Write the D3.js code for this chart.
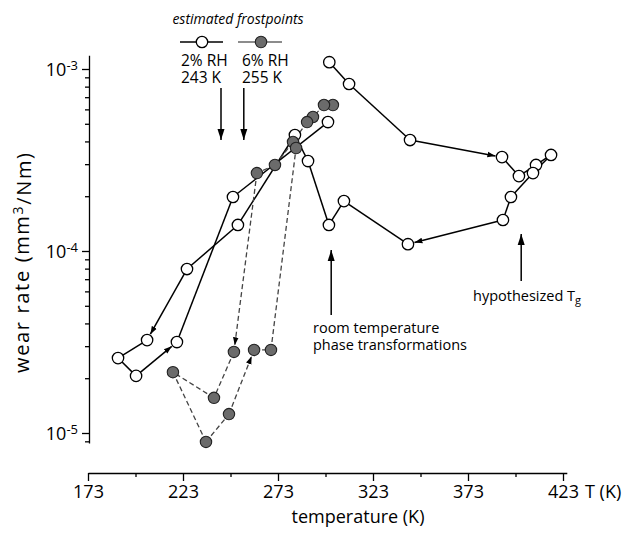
<!DOCTYPE html>
<html>
<head>
<meta charset="utf-8">
<script src="https://cdn.jsdelivr.net/npm/d3@7"></script>
<style>
  body { margin: 0; background: #fff; }
  text { font-family: "Open Sans", "Noto Sans", sans-serif; fill: #000; }
</style>
</head>
<body>
<svg id="chart" width="635" height="533"></svg>
<script>
// 2% RH series (open circles, solid line), in measurement order
const dryTemp = [300, 310.4, 342.5, 390.9, 399.8, 408.8, 416.7, 407.2, 395.6, 391.4, 341.4, 307.7, 299.8,
                 288.8, 281.9, 251.9, 225.1, 204.1, 188.8, 198.3, 219.8, 249.3, 299.3];
const dryWear = [1.09e-3, 8.27e-4, 4.07e-4, 3.28e-4, 2.58e-4, 2.97e-4, 3.37e-4, 2.68e-4, 1.98e-4, 1.48e-4, 1.09e-4, 1.88e-4, 1.39e-4,
                 3.12e-4, 4.34e-4, 1.39e-4, 7.96e-5, 3.24e-5, 2.58e-5, 2.06e-5, 3.16e-5, 1.98e-4, 5.11e-4];
const dryArrows = [3, 10, 17, 20]; // index of point an arrow points into

// 6% RH series (grey circles, dashed line)
const humidTemp = [301.9, 297.2, 291.4, 288.3, 280.9, 271.4, 261.9, 249.8, 239.3, 217.7, 235.1, 247.2, 260.4, 269.3, 282.5];
const humidWear = [6.34e-4, 6.34e-4, 5.45e-4, 5.11e-4, 3.97e-4, 2.97e-4, 2.68e-4, 2.79e-5, 1.56e-5, 2.16e-5, 8.93e-6, 1.27e-5, 2.86e-5, 2.86e-5, 3.68e-4];
const humidArrows = [7, 12];

const xTicks = [173, 223, 273, 323, 373, 423];
const xMinor = [198, 248, 298, 348, 398];
const yTicks = [1e-5, 1e-4, 1e-3];
const yMinor = [9e-6, 2e-5, 3e-5, 4e-5, 5e-5, 6e-5, 7e-5, 8e-5, 9e-5, 2e-4, 3e-4, 4e-4, 5e-4, 6e-4, 7e-4, 8e-4, 9e-4];

// annotation arrows: frostpoints, room temperature, Tg
const frostTemps = [243, 255];
const roomTemp = 301;
const tgTemp = 401;

const svg = d3.select("#chart");

var x = d3.scaleLinear().domain([173, 425]).range([88, 566.8]);
var y = d3.scaleLog().domain([1e-5, 1e-3]).range([433, 69]);
var yAx = y.copy().domain([8.8e-6, 1.19e-3]).range([y(8.8e-6), y(1.19e-3)]);

svg.append("defs").append("marker")
  .attr("id", "head")
  .attr("viewBox", "0 0 10 10")
  .attr("refX", 10).attr("refY", 5)
  .attr("markerWidth", 8).attr("markerHeight", 8)
  .attr("markerUnits", "userSpaceOnUse")
  .attr("orient", "auto")
  .append("path").attr("d", "M0,1.5L10,5L0,8.5Z").attr("fill", "#000");

// axes
const xg = svg.append("g").attr("transform", "translate(0,473)");
xg.call(d3.axisBottom(x).tickValues(xTicks).tickSize(8).tickSizeOuter(0).tickFormat(d3.format("d")));
xg.append("g").call(d3.axisBottom(x).tickValues(xMinor).tickSize(4).tickFormat(""))
  .select(".domain").remove();
xg.selectAll("text").attr("font-size", 18).attr("y", 25).attr("dy", 0).style("font-family", "Open Sans");
xg.selectAll("path, line").attr("stroke", "#000").attr("stroke-width", 1.3);

const yg = svg.append("g").attr("transform", "translate(89,0)");
yg.call(d3.axisLeft(yAx).tickValues(yTicks).tickSize(7).tickSizeOuter(0).tickFormat(""));
yg.append("g").call(d3.axisLeft(yAx).tickValues(yMinor).tickSize(4).tickFormat(""))
  .select(".domain").remove();
yg.selectAll("path, line").attr("stroke", "#000").attr("stroke-width", 1.3);
yg.selectAll(".tick").filter(d => yTicks.includes(d)).each(function (d) {
  const t = d3.select(this).append("text")
    .attr("x", -11).attr("dy", "0.35em")
    .attr("text-anchor", "end").attr("font-size", 18);
  t.append("tspan").text("10");
  t.append("tspan").attr("dy", "-0.45em").attr("font-size", 13).text(Math.round(Math.log10(d)));
});

svg.append("text").attr("x", 585).attr("y", 498).attr("font-size", 18).text("T (K)");
svg.append("text").attr("x", 358).attr("y", 523).attr("text-anchor", "middle").attr("font-size", 18).text("temperature (K)");
const yl = svg.append("text").attr("transform", "translate(29,263) rotate(-90)")
  .attr("text-anchor", "middle").attr("font-size", 20)
  .attr("textLength", 220).attr("lengthAdjust", "spacing");
yl.append("tspan").text("wear rate (mm");
yl.append("tspan").attr("dy", "-0.4em").attr("font-size", 14).text("3");
yl.append("tspan").attr("dy", "0.4em").text("/Nm)");

// series
const r = 5.7;
function drawSeries(temps, wears, arrows, dashed) {
  const pts = temps.map((t, i) => ({ t: t, w: wears[i] }));
  const segs = d3.pairs(pts).map((p, i) => ({ a: p[0], b: p[1], arrow: arrows.includes(i + 1) }));
  svg.append("g").selectAll("line").data(segs).enter().append("line")
    .attr("x1", d => x(d.a.t)).attr("y1", d => y(d.a.w))
    .attr("x2", d => {
      if (!d.arrow) return x(d.b.t);
      const dx = x(d.b.t) - x(d.a.t), dy = y(d.b.w) - y(d.a.w), L = Math.hypot(dx, dy);
      return x(d.b.t) - dx / L * (r + 1);
    })
    .attr("y2", d => {
      if (!d.arrow) return y(d.b.w);
      const dx = x(d.b.t) - x(d.a.t), dy = y(d.b.w) - y(d.a.w), L = Math.hypot(dx, dy);
      return y(d.b.w) - dy / L * (r + 1);
    })
    .attr("stroke", dashed ? "#444" : "#000")
    .attr("stroke-width", dashed ? 1.3 : 1.5)
    .attr("stroke-dasharray", dashed ? "5,3" : null)
    .attr("marker-end", d => d.arrow ? "url(#head)" : null);
  return pts;
}
const dryPts = drawSeries(dryTemp, dryWear, dryArrows, false);
const humidPts = drawSeries(humidTemp, humidWear, humidArrows, true);

svg.append("g").selectAll("circle").data(dryPts).enter().append("circle")
  .attr("cx", d => x(d.t)).attr("cy", d => y(d.w)).attr("r", r)
  .attr("fill", "#fff").attr("stroke", "#000").attr("stroke-width", 1.3);
svg.append("g").selectAll("circle").data(humidPts).enter().append("circle")
  .attr("cx", d => x(d.t)).attr("cy", d => y(d.w)).attr("r", r)
  .attr("fill", "#6b6b6b").attr("stroke", "#222").attr("stroke-width", 1.1);

// big annotation arrows
function bigArrow(px, yFrom, yTo) {
  svg.append("line").attr("x1", px).attr("x2", px).attr("y1", yFrom).attr("y2", yTo)
    .attr("stroke", "#000").attr("stroke-width", 1.5);
  const dir = yTo > yFrom ? -1 : 1;
  svg.append("path")
    .attr("d", `M${px},${yTo}L${px - 3.5},${yTo + dir * 11}L${px + 3.5},${yTo + dir * 11}Z`)
    .attr("fill", "#000");
}
frostTemps.forEach(t => bigArrow(x(t), 88, 140));
bigArrow(x(roomTemp), 315, 250);
bigArrow(x(tgTemp), 281, 234);

// legend
svg.append("text").attr("x", 238).attr("y", 24).attr("text-anchor", "middle")
  .attr("font-size", 14).attr("font-style", "italic").text("estimated frostpoints");
svg.append("line").attr("x1", 180).attr("x2", 223).attr("y1", 42).attr("y2", 42).attr("stroke", "#000").attr("stroke-width", 1.3);
svg.append("circle").attr("cx", 202).attr("cy", 42).attr("r", r).attr("fill", "#fff").attr("stroke", "#000").attr("stroke-width", 1.3);
svg.append("line").attr("x1", 238).attr("x2", 282).attr("y1", 42).attr("y2", 42).attr("stroke", "#666").attr("stroke-width", 1.3);
svg.append("circle").attr("cx", 261).attr("cy", 42).attr("r", r).attr("fill", "#6b6b6b").attr("stroke", "#222").attr("stroke-width", 1.1);
[["2% RH", "243 K", 181], ["6% RH", "255 K", 242]].forEach(function (l) {
  svg.append("text").attr("x", l[2]).attr("y", 66).attr("font-size", 15.5).text(l[0]);
  svg.append("text").attr("x", l[2]).attr("y", 83).attr("font-size", 15.5).text(l[1]);
});

// annotations
svg.append("text").attr("x", 313).attr("y", 333).attr("font-size", 14.5).text("room temperature");
svg.append("text").attr("x", 313).attr("y", 350).attr("font-size", 14.5).text("phase transformations");
const tg = svg.append("text").attr("x", 473).attr("y", 301).attr("font-size", 14.5);
tg.append("tspan").text("hypothesized T");
tg.append("tspan").attr("dy", "0.3em").attr("font-size", 11).text("g");
</script>
</body>
</html>
